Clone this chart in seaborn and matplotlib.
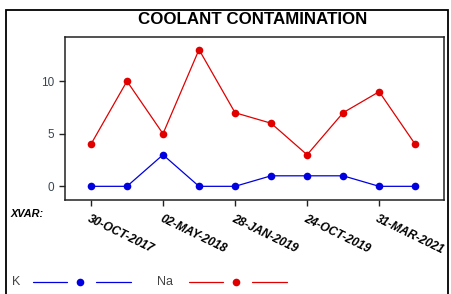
import numpy as np
import pandas as pd
import matplotlib
matplotlib.use('Agg')
import matplotlib.pyplot as plt
from matplotlib.lines import Line2D
from matplotlib.patches import Rectangle
import seaborn as sns

sns.set_style('ticks')
plt.rcParams['font.family'] = ['Liberation Sans', 'DejaVu Sans']
plt.rcParams['text.color'] = 'black'
plt.rcParams['xtick.color'] = 'black'

# sample dates (only every other one is labelled)
dates = ['30-OCT-2017', 'd2', '02-MAY-2018', 'd4', '28-JAN-2019', 'd6',
         '24-OCT-2019', 'd8', '31-MAR-2021', 'd10']
k_vals = [0, 0, 3, 0, 0, 1, 1, 1, 0, 0]
na_vals = [4, 10, 5, 13, 7, 6, 3, 7, 9, 4]
shown_labels = ['30-OCT-2017', '02-MAY-2018', '28-JAN-2019', '24-OCT-2019', '31-MAR-2021']

df = pd.DataFrame({'idx': np.arange(len(dates)), 'K': k_vals, 'Na': na_vals})

fig = plt.figure(figsize=(4.51, 2.94), dpi=100)
ax = fig.add_axes([65/451, 1 - 200/294, (444 - 65)/451, (200 - 37)/294])

blue = '#0000e0'
red = '#e00000'
sns.lineplot(data=df, x='idx', y='Na', ax=ax, color=red, lw=0.9,
             marker='o', markersize=5.5, markeredgewidth=0)
sns.lineplot(data=df, x='idx', y='K', ax=ax, color=blue, lw=0.9,
             marker='o', markersize=5.5, markeredgewidth=0)

ax.set_xlim(-0.72, 9.8)
ax.set_ylim(-1.3, 14.2)
ax.set_yticks([0, 5, 10])
ax.set_xticks(df['idx'][::2])
ax.set_xticklabels(shown_labels, rotation=-26, ha='left', va='top',
                   rotation_mode='anchor', fontsize=8.6,
                   fontweight='bold', fontstyle='italic', color='black')
ax.tick_params(axis='y', labelsize=8.5, labelcolor='#3a4550', length=4, width=1,
               color='#222222')
ax.tick_params(axis='x', length=4, width=1, pad=5, color='#222222')
ax.set_xlabel('')
ax.set_ylabel('')
for s in ax.spines.values():
    s.set_linewidth(1.1)
    s.set_color('#222222')

fig.text(253/451, 1 - 20/294, 'COOLANT CONTAMINATION', ha='center', va='center',
         fontsize=12.2, fontweight='bold', color='black')
fig.text(10/451, 1 - 214/294, 'XVAR:', ha='left', va='center',
         fontsize=7.8, fontweight='bold', fontstyle='italic', color='black')

# outer frame
fig.add_artist(Rectangle((6/451, -0.05), (448 - 6)/451, 1 - 10/294 + 0.05,
                         transform=fig.transFigure, fill=False,
                         edgecolor='black', lw=1.3))

# legend drawn by hand: line - dot - line
def legend_item(x_text, x0, label, color):
    y = 1 - 282/294
    fig.text(x_text/451, y, label, ha='left', va='center', fontsize=9, color='#444444')
    fig.add_artist(Line2D([x0/451, (x0 + 34)/451], [y, y], color=color, lw=0.9,
                          transform=fig.transFigure))
    fig.add_artist(Line2D([(x0 + 47)/451], [y], color=color, marker='o',
                          markersize=5.5, markeredgewidth=0, transform=fig.transFigure))
    fig.add_artist(Line2D([(x0 + 63)/451, (x0 + 98)/451], [y, y], color=color, lw=0.9,
                          transform=fig.transFigure))

legend_item(12, 33, 'K', blue)
legend_item(157, 189, 'Na', red)

fig.savefig('out.png', dpi=100)
